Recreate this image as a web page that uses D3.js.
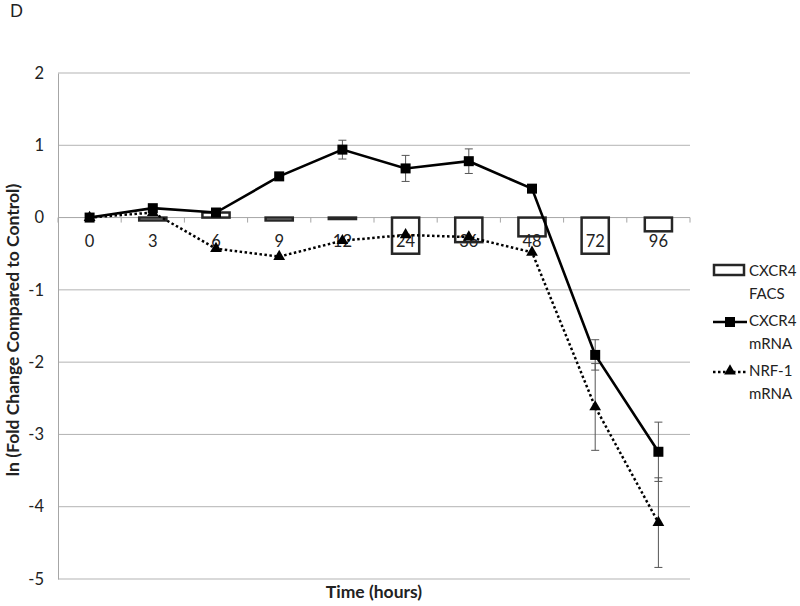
<html>
<head>
<meta charset="utf-8">
<script src="https://d3js.org/d3.v7.min.js"></script>
<style>
  body { margin: 0; background: #fff; }
  text { font-family: Lato, "Open Sans", sans-serif; }
</style>
</head>
<body>
<div id="chart"></div>
<script>
// time points (hours) used as categories
const hours = ["0", "3", "6", "9", "12", "24", "36", "48", "72", "96"];
// CXCR4 FACS bars
const facs = [0, -0.04, 0.07, -0.04, -0.02, -0.5, -0.34, -0.26, -0.5, -0.19];
// CXCR4 mRNA line + error
const cxcr4 = [0, 0.13, 0.07, 0.57, 0.94, 0.68, 0.78, 0.40, -1.90, -3.24];
const cxcr4Err = [0, 0, 0, 0, 0.13, 0.18, 0.17, 0, 0.21, 0.41];
// NRF-1 mRNA line + error
const nrf1 = [0, 0.07, -0.43, -0.54, -0.32, -0.24, -0.27, -0.48, -2.62, -4.22];
const nrf1Err = [0, 0, 0, 0, 0, 0, 0, 0, 0.6, 0.62];
const yTicks = [2, 1, 0, -1, -2, -3, -4, -5];

const width = 800, height = 606;
const margins = {top: 73, right: 110, bottom: 27, left: 58};
const chartW = width - margins.left - margins.right;
const chartH = height - margins.top - margins.bottom;

const svg = d3.select("#chart").append("svg")
    .attr("width", width).attr("height", height);

const x = d3.scaleBand().domain(hours).range([0, chartW]);
const y = d3.scaleLinear().domain([-5, 2]).range([chartH, 0]);

const g = svg.append("g").attr("transform", `translate(${margins.left},${margins.top})`);

// gridlines
g.selectAll("line.grid").data(yTicks.filter(d => d !== 0))
  .join("line").attr("class", "grid")
  .attr("x1", 0).attr("x2", chartW)
  .attr("y1", d => y(d)).attr("y2", d => y(d))
  .attr("stroke", "#b3b3b3").attr("stroke-width", 1);

// y axis
const leftAxis = d3.axisLeft(y).tickValues(yTicks).tickSize(0).tickPadding(14)
  .tickFormat(d => String(d));
const ya = g.append("g").call(leftAxis);
ya.select(".domain").attr("stroke", "#a6a6a6");
ya.selectAll("text").attr("font-size", 16.5).attr("fill", "#222")
  .style("font-family", "Lato, sans-serif");

// x axis on zero line
const xa = g.append("g").attr("transform", `translate(0,${y(0)})`);
xa.append("line").attr("x1", 0).attr("x2", chartW).attr("stroke", "#a6a6a6");
const bounds = d3.range(hours.length + 1).map(i => i * x.step());
xa.selectAll("line.tk").data(bounds).join("line").attr("class", "tk")
  .attr("x1", d => d).attr("x2", d => d).attr("y1", 0).attr("y2", 5)
  .attr("stroke", "#a6a6a6");

// FACS bars
const bw = x.bandwidth() * 0.43;
g.selectAll("rect.bar").data(hours.map((h, i) => ({h, v: facs[i]})).filter(d => d.v !== 0))
  .join("rect").attr("class", "bar")
  .attr("x", d => x(d.h) + x.bandwidth() / 2 - bw / 2)
  .attr("width", bw)
  .attr("y", d => y(Math.max(0, d.v)))
  .attr("height", d => Math.abs(y(d.v) - y(0)))
  .attr("fill", "#fff").attr("stroke", "#262626").attr("stroke-width", 2.5);

// x tick labels (drawn over the bars)
g.append("g").attr("transform", `translate(0,${y(0)})`)
  .selectAll("text").data(hours).join("text")
  .attr("x", d => x(d) + x.bandwidth() / 2).attr("y", 25)
  .attr("text-anchor", "middle").attr("dominant-baseline", "middle")
  .attr("font-size", 16.5).attr("fill", "#222").text(d => d);

// error bars
function errBars(vals, errs) {
  const d = hours.map((h, i) => ({h, v: vals[i], e: errs[i]})).filter(d => d.e > 0);
  const eg = g.append("g");
  eg.selectAll("line.v").data(d).join("line")
    .attr("x1", d => x(d.h) + x.bandwidth() / 2).attr("x2", d => x(d.h) + x.bandwidth() / 2)
    .attr("y1", d => y(d.v + d.e)).attr("y2", d => y(d.v - d.e))
    .attr("stroke", "#555").attr("stroke-width", 1);
  [1, -1].forEach(s => {
    eg.selectAll("line.c" + (s > 0 ? "p" : "m")).data(d).join("line")
      .attr("class", "c" + (s > 0 ? "p" : "m"))
      .attr("x1", d => x(d.h) + x.bandwidth() / 2 - 4).attr("x2", d => x(d.h) + x.bandwidth() / 2 + 4)
      .attr("y1", d => y(d.v + s * d.e)).attr("y2", d => y(d.v + s * d.e))
      .attr("stroke", "#555").attr("stroke-width", 1);
  });
}
errBars(cxcr4, cxcr4Err);
errBars(nrf1, nrf1Err);

const lineGen = d3.line().x((d, i) => x(hours[i]) + x.bandwidth() / 2).y(d => y(d));

g.append("path").datum(nrf1).attr("d", lineGen)
  .attr("fill", "none").attr("stroke", "#000").attr("stroke-width", 2.5)
  .attr("stroke-dasharray", "2.5,2.5");
g.append("path").datum(cxcr4).attr("d", lineGen)
  .attr("fill", "none").attr("stroke", "#000").attr("stroke-width", 2.6);

const tri = d3.symbol().type(d3.symbolTriangle).size(60);
g.selectAll("path.tri").data(nrf1).join("path").attr("class", "tri")
  .attr("transform", (d, i) => `translate(${x(hours[i]) + x.bandwidth() / 2},${y(d)})`)
  .attr("d", tri).attr("fill", "#000");
g.selectAll("rect.sq").data(cxcr4).join("rect").attr("class", "sq")
  .attr("x", (d, i) => x(hours[i]) + x.bandwidth() / 2 - 5)
  .attr("y", d => y(d) - 5).attr("width", 10).attr("height", 10).attr("fill", "#000");

// legend
const lg = svg.append("g").attr("transform", "translate(713,0)");
lg.append("rect").attr("x", 1).attr("y", 265).attr("width", 30).attr("height", 10)
  .attr("fill", "#fff").attr("stroke", "#262626").attr("stroke-width", 2.5);
lg.append("line").attr("x1", 0).attr("x2", 34).attr("y1", 322).attr("y2", 322)
  .attr("stroke", "#000").attr("stroke-width", 2.5);
lg.append("rect").attr("x", 12).attr("y", 317).attr("width", 10).attr("height", 10).attr("fill", "#000");
lg.append("line").attr("x1", 0).attr("x2", 34).attr("y1", 372).attr("y2", 372)
  .attr("stroke", "#000").attr("stroke-width", 2.5).attr("stroke-dasharray", "2.5,2.5");
lg.append("path").attr("transform", "translate(17,371)").attr("d", tri).attr("fill", "#000");
const legText = [["CXCR4", "FACS", 272], ["CXCR4", "mRNA", 322], ["NRF-1", "mRNA", 372]];
legText.forEach(t => {
  const tx = lg.append("text").attr("font-size", 15).attr("fill", "#222");
  tx.append("tspan").attr("x", 36).attr("y", t[2]).attr("dominant-baseline", "middle").text(t[0]);
  tx.append("tspan").attr("x", 36).attr("y", t[2] + 23).attr("dominant-baseline", "middle").text(t[1]);
});

// titles
svg.append("text").attr("x", 10).attr("y", 13).attr("font-size", 17)
  .attr("dominant-baseline", "middle").attr("fill", "#222").text("D");
svg.append("text").attr("transform", `translate(15,${margins.top + chartH / 2 + 4}) rotate(-90)`)
  .attr("text-anchor", "middle").attr("dominant-baseline", "middle")
  .attr("font-size", 17.5).attr("font-weight", "bold").attr("fill", "#222")
  .text("ln (Fold Change Compared to Control)");
svg.append("text").attr("x", margins.left + chartW / 2).attr("y", 594)
  .attr("text-anchor", "middle").attr("dominant-baseline", "middle")
  .attr("font-size", 17.5).attr("font-weight", "bold").attr("fill", "#222")
  .text("Time (hours)");
</script>
</body>
</html>
